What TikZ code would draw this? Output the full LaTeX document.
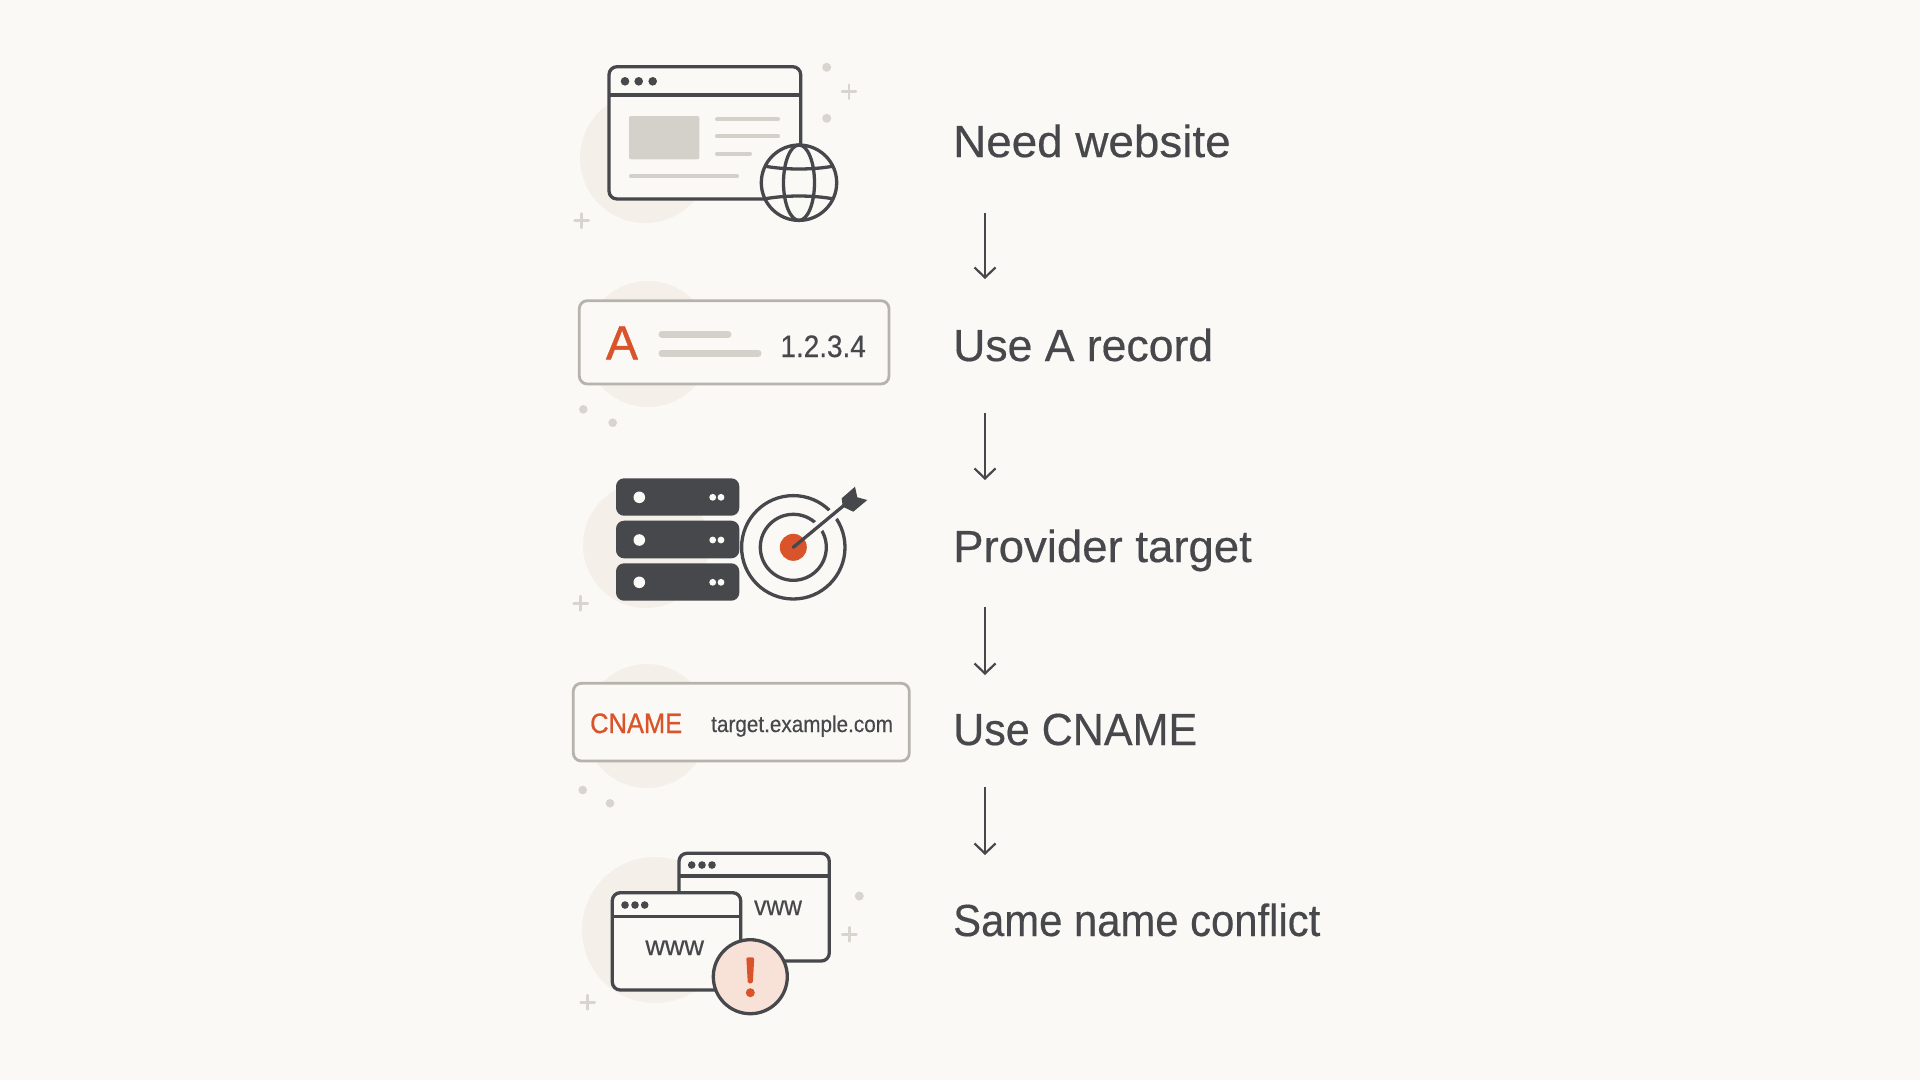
\documentclass[tikz,border=0pt]{standalone}
\usepackage{graphicx}
\usepackage{fontspec}
\setmainfont{Liberation Sans}
\newfontfamily\medf[FakeBold=0.4]{Liberation Sans}
\newfontfamily\heavyf[FakeBold=0.9]{Liberation Sans}
\usetikzlibrary{arrows.meta,calc}
\definecolor{bgc}{HTML}{FBF9F6}
\definecolor{blob}{HTML}{F4F0E9}
\definecolor{ink}{HTML}{47484C}
\definecolor{soft}{HTML}{D8D5CE}
\definecolor{bar}{HTML}{D4D1CA}
\definecolor{edgec}{HTML}{B6B3AC}
\definecolor{rust}{HTML}{D9542B}
\definecolor{tint}{HTML}{F8E1D7}
\newcommand{\fs}[1]{\fontsize{#1}{#1}\selectfont\medf}
\newcommand{\fh}[1]{\fontsize{#1}{#1}\selectfont\heavyf}
\newcommand{\narrowed}[2]{\scalebox{#1}[1]{#2}}
\newcommand{\plusmark}[1]{\draw[deco] ($#1+(-7,0)$) -- ($#1+(7,0)$) ($#1+(0,-7)$) -- ($#1+(0,7)$);}
\tikzset{
  blobc/.style={fill=blob,draw=none},
  deco/.style={draw=soft,line width=2.8pt,line cap=round},
  spot/.style={fill=soft,draw=none},
  win/.style={draw=ink,fill=bgc,line width=3.3pt,rounded corners=8pt},
  hdr/.style={draw=ink,line width=3.3pt},
  dotk/.style={fill=ink,draw=none},
  barline/.style={draw=bar,line width=4pt,line cap=round},
  thickbar/.style={draw=bar,line width=7pt,line cap=round},
  card/.style={draw=edgec,fill=bgc,line width=2.8pt,rounded corners=8pt},
  srv/.style={fill=ink,draw=none,rounded corners=8pt},
  ring/.style={draw=ink,line width=3.3pt},
  caption/.style={anchor=base west,inner sep=0pt,text=ink,font=\fs{45}},
  flow/.style={draw=ink,line width=2.2pt,-{Straight Barb[length=10pt,width=21pt,line width=2.2pt]}},
}
\begin{document}
\begin{tikzpicture}[x=1pt,y=-1pt]
\useasboundingbox (0,0) rectangle (1920,1080);
\fill[bgc] (0,0) rectangle (1920,1080);
%% row 1
\fill[blobc] (645,158) circle (65);
\fill[spot] (826.7,67.3) circle (4.5) (826.7,118.3) circle (4.5);
\plusmark{(849,91.7)}
\plusmark{(581.7,220.7)}
\draw[win] (609,66.7) rectangle (800.7,199);
\draw[hdr] (609,95) -- (800.7,95);
\fill[dotk] (625,81.3) circle (4.3) (638.7,81.3) circle (4.3) (652.7,81.3) circle (4.3);
\fill[bar,rounded corners=2pt] (629,116) rectangle (699.3,159.3);
\draw[barline] (717,119.3) -- (778,119.3) (717,136.3) -- (778,136.3) (717,153.7) -- (750,153.7) (631,176.3) -- (737,176.3);
\draw[ring,fill=bgc] (799,182.7) circle (37.7);
\draw[ring] (799,182.7) ellipse (15.5 and 37.7);
\draw[ring] (764,166) .. controls (785,170) and (813,170) .. (834,166);
\draw[ring] (764,199) .. controls (785,195) and (813,195) .. (834,199);
%% row 2
\fill[blobc] (648,344) circle (63);
\fill[spot] (583.3,409.3) circle (4.3) (612.7,422.7) circle (4.3);
\draw[card] (579.3,300.7) rectangle (889,384);
\node[anchor=base,inner sep=0pt,text=rust,font=\fh{48}] (recA) at (622,359.3) {A};
\draw[thickbar] (662,334.3) -- (728,334.3) (662,353.3) -- (758,353.3);
\node[anchor=base east,inner sep=0pt,text=ink,font=\fs{31}] (ip) at (866,357) {\narrowed{0.9}{1.2.3.4}};
%% row 3
\fill[blobc] (646,545) circle (63);
\plusmark{(580.7,603.3)}
\fill[srv] (616,478.3) rectangle (739.3,515.7);
\fill[srv] (616,520.7) rectangle (739.3,558.3);
\fill[srv] (616,563.3) rectangle (739.3,600.7);
\fill[bgc] (639.3,497.3) circle (5.8) (639.3,540) circle (5.8) (639.3,582.3) circle (5.8);
\fill[bgc] (712.7,497.3) circle (3.4) (721,497.3) circle (3.4)
           (712.7,540) circle (3.4) (721,540) circle (3.4)
           (712.7,582.3) circle (3.4) (721,582.3) circle (3.4);
\draw[ring] (793.3,547.3) circle (51.7);
\draw[ring] (793.3,547.3) circle (33);
\draw[bgc,line width=11pt] (793.3,547.3) -- (848,502);
\fill[rust] (793.3,547.3) circle (13.5);
\draw[ink,line width=3.3pt,line cap=round] (793.3,547.3) -- (848,502);
\fill[ink] (841.7,498.3) -- (855,486.7) -- (857.3,497.3) -- (867.3,500) -- (853.3,511.7) -- (842.7,506.7) -- cycle;
%% row 4
\fill[blobc] (646.7,726) circle (62);
\fill[spot] (582.7,790) circle (4.3) (610,803.3) circle (4.3);
\draw[card] (573.3,683.3) rectangle (909.3,761);
\node[anchor=base west,inner sep=0pt,text=rust,font=\fh{28}] (cn) at (590,733) {\narrowed{0.91}{CNAME}};
\node[anchor=base west,inner sep=0pt,text=ink,font=\fs{23}] (tg) at (711,732) {\narrowed{0.9}{target.example.com}};
%% row 5
\fill[blobc] (655,930) circle (73);
\fill[spot] (859.3,896) circle (4.5);
\plusmark{(849.3,934.3)}
\plusmark{(587.7,1002.3)}
\draw[win] (679,853.3) rectangle (829.3,961);
\draw[hdr] (679,876) -- (829.3,876);
\fill[dotk] (691.7,865) circle (3.8) (702,865) circle (3.8) (712,865) circle (3.8);
\node[anchor=base,inner sep=0pt,text=ink,font=\fs{27}] (w2) at (778,915) {\narrowed{0.91}{vww}};
\draw[win] (612.3,892.7) rectangle (740.7,990);
\draw[hdr] (612.3,916.7) -- (740.7,916.7);
\fill[dotk] (625,905) circle (3.8) (635,905) circle (3.8) (644.7,905) circle (3.8);
\node[anchor=base,inner sep=0pt,text=ink,font=\fs{27}] (w1) at (674.7,955) {www};
\draw[ring,fill=tint] (750.3,976.7) circle (37);
\fill[rust,rounded corners=1.5pt] (746.3,957.3) -- (754.3,957.3) -- (752.8,983.3) -- (747.8,983.3) -- cycle;
\fill[rust] (750.3,992.7) circle (4.5);
%% captions
\node[caption] (t1) at (953,157) {\narrowed{1.018}{Need website}};
\node[caption] (t2) at (953,361) {\narrowed{0.99}{Use A record}};
\node[caption] (t3) at (953,562) {\narrowed{1.012}{Provider target}};
\node[caption] (t4) at (953,745) {\narrowed{0.957}{Use CNAME}};
\node[caption] (t5) at (953,936) {\narrowed{0.929}{Same name conflict}};
%% arrows
\coordinate (a1) at (985,213); \coordinate (b1) at (985,279);
\coordinate (a2) at (985,413); \coordinate (b2) at (985,480);
\coordinate (a3) at (985,607); \coordinate (b3) at (985,675);
\coordinate (a4) at (985,787); \coordinate (b4) at (985,855);
\draw[flow] (a1) -- (b1);
\draw[flow] (a2) -- (b2);
\draw[flow] (a3) -- (b3);
\draw[flow] (a4) -- (b4);
\end{tikzpicture}
\end{document}
